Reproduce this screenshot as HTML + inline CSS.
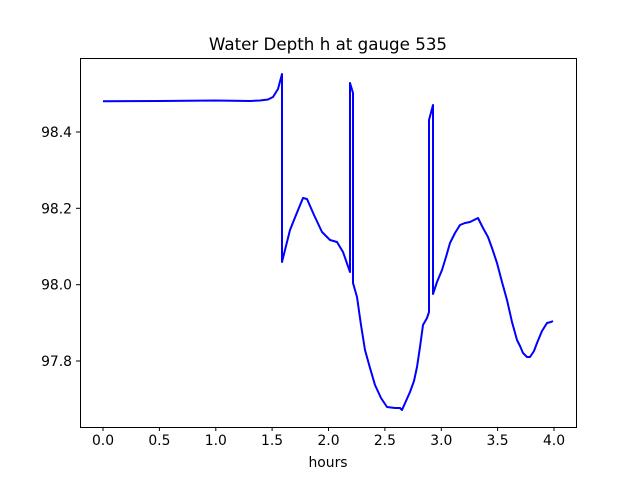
<!DOCTYPE html>
<html><head><style>body{margin:0;background:#fff}svg{display:block}</style></head><body>
<svg width="640" height="480" xmlns="http://www.w3.org/2000/svg" font-family="DejaVu Sans, Liberation Sans, sans-serif">
<rect width="640" height="480" fill="#fff"/>
<text x="328" y="50" font-size="16.7" text-anchor="middle">Water Depth h at gauge 535</text>
<polyline fill="none" stroke="#0000ff" stroke-width="2" stroke-linejoin="round" points="103,101.3 160,101 215,100.5 250,101 260,100.5 268,99.5 273,97 278,89 282,74 282,262 286,246 290,230 296,215 303,198 307,199 314,215 322,232 330,240 337,242 343,252 350,272 350,83 353,93 353,283 357,297 361,325 365,350 370,368 375,385 381,398 387,407 395,408 400,408 402,410 406,401 410,392 414,381 417,367 420,347 423,325 427,318 429,312 429,120 433,105 433,294 437,282 442,270 446,257 450,243 455,233 460,225 465,223 470,222 474,220 478,218 483,228 488,237 492,248 497,263 502,282 507,300 512,322 517,340 520,346 523,353 527,357 530,357 534,351 537,343 542,331 547,323 551,322 553,321"/>
<rect x="80.5" y="58.5" width="496" height="369" fill="none" stroke="#000" stroke-width="1"/>
<g stroke="#000" stroke-width="1">
<line x1="103" y1="427" x2="103" y2="431"/><line x1="159.4" y1="427" x2="159.4" y2="431"/><line x1="215.8" y1="427" x2="215.8" y2="431"/><line x1="272.1" y1="427" x2="272.1" y2="431"/><line x1="328.5" y1="427" x2="328.5" y2="431"/><line x1="384.9" y1="427" x2="384.9" y2="431"/><line x1="441.3" y1="427" x2="441.3" y2="431"/><line x1="497.6" y1="427" x2="497.6" y2="431"/><line x1="554" y1="427" x2="554" y2="431"/>
<line x1="76" y1="132" x2="80" y2="132"/><line x1="76" y1="208.3" x2="80" y2="208.3"/><line x1="76" y1="284.7" x2="80" y2="284.7"/><line x1="76" y1="361" x2="80" y2="361"/>
</g>
<g font-size="13.9" text-anchor="middle">
<text x="103" y="445">0.0</text><text x="159.4" y="445">0.5</text><text x="215.8" y="445">1.0</text><text x="272.1" y="445">1.5</text><text x="328.5" y="445">2.0</text><text x="384.9" y="445">2.5</text><text x="441.3" y="445">3.0</text><text x="497.6" y="445">3.5</text><text x="554" y="445">4.0</text>
<text x="328" y="467">hours</text>
</g>
<g font-size="13.9" text-anchor="end">
<text x="72" y="137">98.4</text><text x="72" y="213.3">98.2</text><text x="72" y="289.7">98.0</text><text x="72" y="366">97.8</text>
</g>
</svg>
</body></html>
